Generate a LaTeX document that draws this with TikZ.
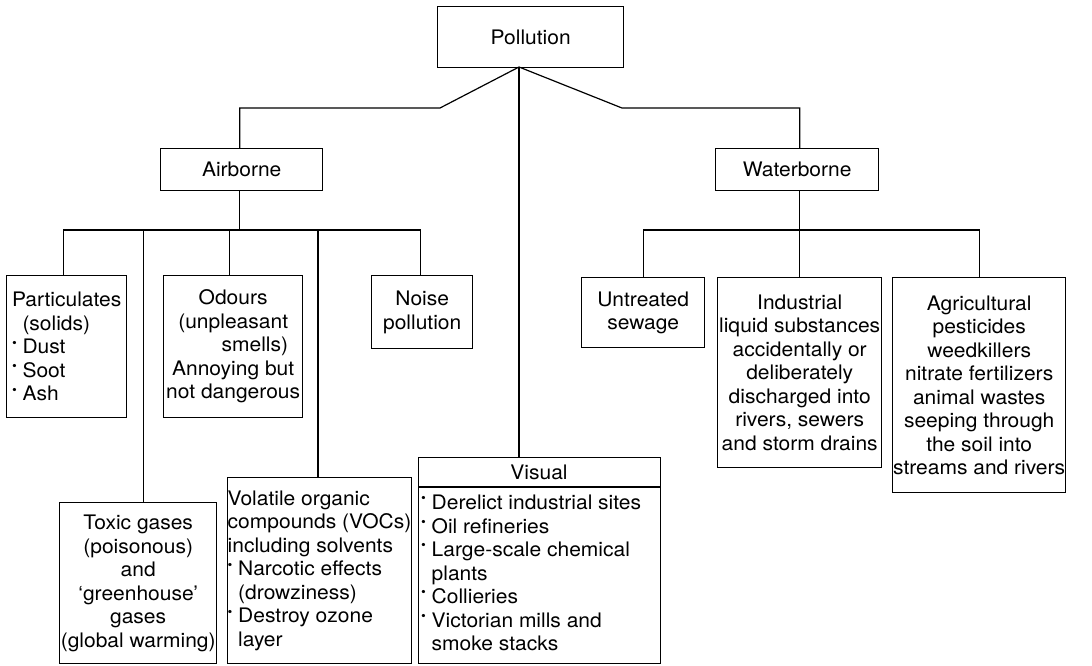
\documentclass[tikz,border=0pt]{standalone}
\usepackage{fontspec}
\usepackage{graphicx}
\usepackage{calc}
\setmainfont[FakeStretch=1.05]{TeX Gyre Heros}
\newcommand\bul{\makebox[10.5pt][l]{\raisebox{0.65ex}{\scalebox{0.65}{\textbullet}}}}
\newcommand\ind{\hspace*{10.5pt}}
\begin{document}
\begin{tikzpicture}[x=1pt,y=-1pt,
  box/.style={draw, line width=1.4pt, inner sep=0pt, align=center, anchor=north west,
    font=\fontsize{20}{23.5}\selectfont},
  lbox/.style={box, align=left},
  txt/.style={inner sep=0pt, font=\fontsize{20}{23.5}\selectfont},
  conn/.style={line width=1.2pt}]
\useasboundingbox (0,0) rectangle (1092,665);
% nodes
\node[box, minimum width=186, minimum height=61] (poll) at (437,6) {Pollution};
\node[box, minimum width=162, minimum height=42] (air) at (160,148) {Airborne};
\node[box, minimum width=163, minimum height=42] (water) at (715,148) {Waterborne};
\node[lbox, minimum width=120, minimum height=142] (part) at (6,275)
  {Particulates\\\ind(solids)\\\bul Dust\\\bul Soot\\\bul Ash};
\node[box, minimum width=139, minimum height=142] (odour) at (163,275)
  {Odours\\(unpleasant\\\makebox[\widthof{(unpleasant}][r]{smells)}\\Annoying but\\not dangerous};
\node[box, minimum width=101, minimum height=73] (noise) at (371,275) {Noise\\pollution};
\node[box, minimum width=157, minimum height=161] (toxic) at (59,502)
  {Toxic gases\\(poisonous)\\and\\`greenhouse'\\gases\\(global warming)};
\node[lbox, minimum width=181, minimum height=186] (voc) at (227,477)
  {Volatile organic\\compounds (VOCs)\\including solvents\\\bul Narcotic effects\\\ind(drowziness)\\\bul Destroy ozone\\\ind layer};
\node[box, minimum width=242, minimum height=206] (visbox) at (418,457) {};
\node[txt] (vishead) at (539,472) {Visual};
\node[txt, align=left, anchor=west] (vislist) at (421,573)
  {\bul Derelict industrial sites\\\bul Oil refineries\\\bul Large-scale chemical\\\ind plants\\\bul Collieries\\\bul Victorian mills and\\\ind smoke stacks};
\draw[line width=1.2pt] ([yshift=-30pt]visbox.north west) -- ([yshift=-30pt]visbox.north east);
\node[box, minimum width=123, minimum height=70] (untr) at (581,277) {Untreated\\sewage};
\node[box, minimum width=164, minimum height=190] (indus) at (717,277)
  {Industrial\\liquid substances\\accidentally or\\deliberately\\discharged into\\rivers, sewers\\and storm drains};
\node[box, minimum width=173, minimum height=215] (agri) at (892,277)
  {Agricultural\\pesticides\\weedkillers\\nitrate fertilizers\\animal wastes\\seeping through\\the soil into\\streams and rivers};
% connectors
\coordinate (pj) at (519,67);
\coordinate (lbend) at (440,108);
\coordinate (rbend) at (622,108);
\coordinate (abus) at (0,230);
\coordinate (wbus) at (0,230);
\draw[conn] (pj) -- (lbend) -| ([xshift=-2pt]air.north);
\draw[conn] (pj) -- (rbend) -| ([xshift=2.5pt]water.north);
\draw[conn] (pj) -- (pj |- visbox.north);
\draw[conn] ([xshift=-2pt]air.south) -- ([xshift=-2pt]air.south |- abus);
\draw[conn] ([xshift=-3pt]part.north) -- ([xshift=-3pt]part.north |- abus)
  -- ([xshift=-1.5pt]noise.north |- abus) -- ([xshift=-1.5pt]noise.north);
\draw[conn] ([xshift=5.5pt]toxic.north) -- ([xshift=5.5pt]toxic.north |- abus);
\draw[conn] ([xshift=-3.5pt]odour.north) -- ([xshift=-3.5pt]odour.north |- abus);
\draw[conn] ([xshift=-1.5pt]voc.north) -- ([xshift=-1.5pt]voc.north |- abus);
\draw[conn] ([xshift=2.5pt]water.south) -- ([xshift=2.5pt]water.south |- wbus);
\draw[conn] (untr.north) -- (untr.north |- wbus) -- (agri.north |- wbus) -- (agri.north);
\draw[conn] (indus.north) -- (indus.north |- wbus);
\end{tikzpicture}
\end{document}
